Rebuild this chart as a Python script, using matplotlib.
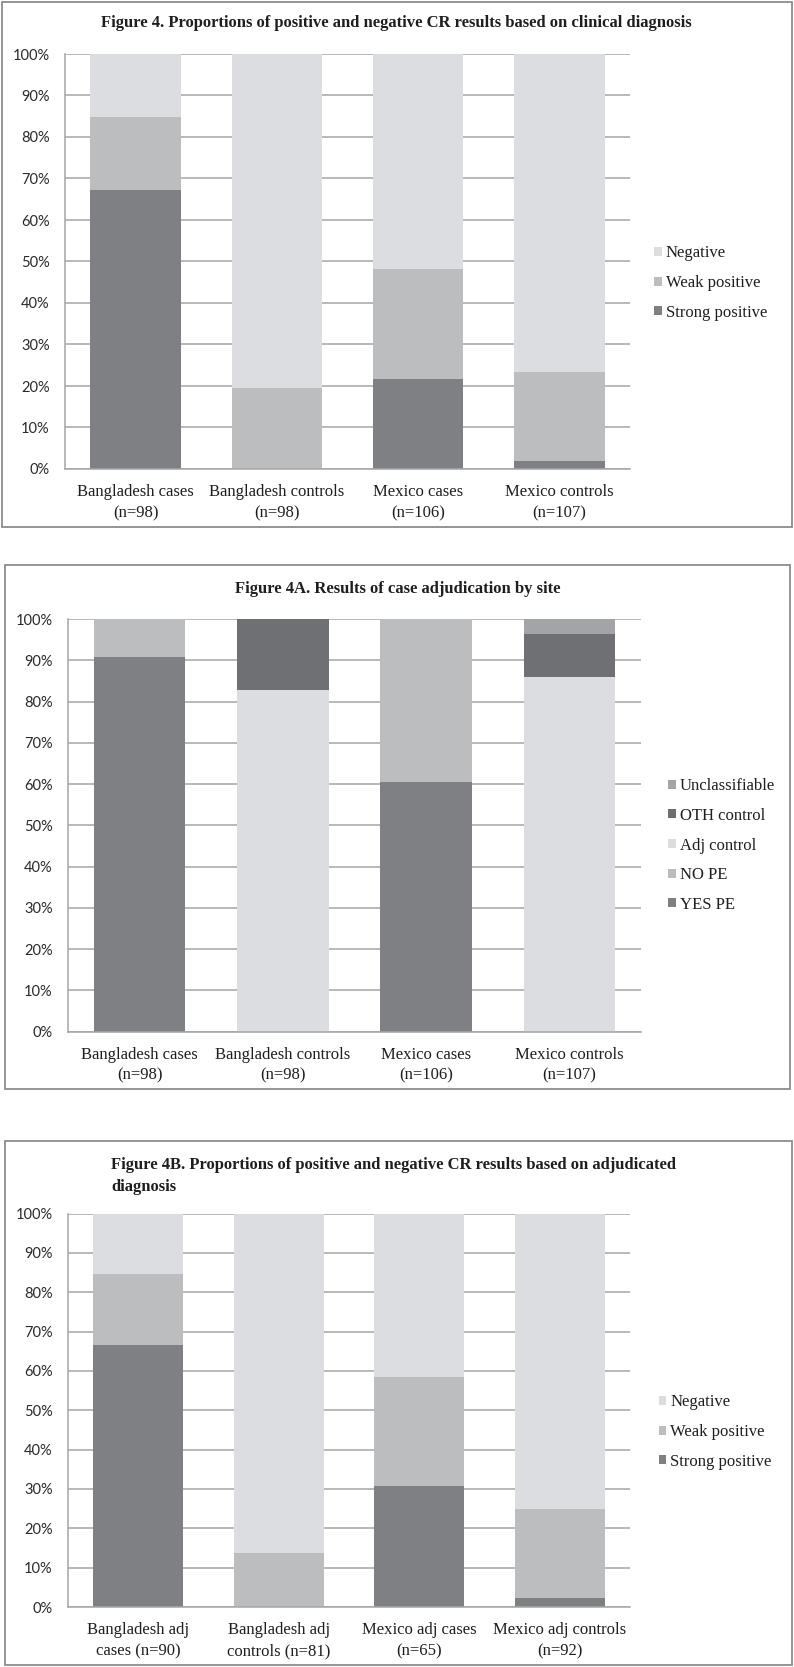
import matplotlib
matplotlib.use("Agg")
import matplotlib.pyplot as plt
from matplotlib.patches import Rectangle, Patch

# ---- dados (percentuais) ----
grupos_clin = ["Bangladesh cases\n(n=98)", "Bangladesh controls\n(n=98)",
               "Mexico cases\n(n=106)", "Mexico controls\n(n=107)"]
strong_clin = [67.3, 0.0, 21.7, 1.9]
weak_clin = [17.4, 19.4, 26.4, 21.5]
neg_clin = [15.3, 80.6, 51.9, 76.6]

grupos_adj_site = ["Bangladesh cases\n(n=98)", "Bangladesh controls\n(n=98)",
                   "Mexico cases\n(n=106)", "Mexico controls\n(n=107)"]
yes_pe = [90.9, 0.0, 60.6, 0.0]
no_pe = [9.1, 0.0, 39.4, 0.0]
adj_control = [0.0, 82.7, 0.0, 86.0]
oth_control = [0.0, 17.3, 0.0, 10.3]
unclassifiable = [0.0, 0.0, 0.0, 3.7]

grupos_adj = ["Bangladesh adj\ncases (n=90)", "Bangladesh adj\ncontrols (n=81)",
              "Mexico adj cases\n(n=65)", "Mexico adj controls\n(n=92)"]
strong_adj = [66.7, 0.0, 30.8, 2.2]
weak_adj = [17.8, 13.6, 27.7, 22.8]
neg_adj = [15.5, 86.4, 41.5, 75.0]

yticks = [0, 10, 20, 30, 40, 50, 60, 70, 80, 90, 100]

# cores (tons de cinza tipo Excel)
c_strong = "#7f8084"
c_weak = "#bcbdbf"
c_neg = "#dcdde0"
c_oth = "#6f7074"
c_uncl = "#a3a4a7"
c_text = "#1e1e1e"
c_grid = "#a6a6a6"

plt.rcParams["font.family"] = ["Liberation Serif", "DejaVu Serif"]
plt.rcParams["font.size"] = 12

W, H = 794, 1667
fig = plt.figure(figsize=(W / 100, H / 100), dpi=100)


def fx(x):
    return x / W


def fy(y):
    return 1 - y / H


def moldura(x0, y0, x1, y1):
    # retangulo cinza em volta de cada figura
    fig.patches.append(Rectangle((fx(x0), fy(y1)), fx(x1) - fx(x0), fy(y0) - fy(y1),
                                 transform=fig.transFigure, fill=False,
                                 edgecolor="#8c8c8c", linewidth=1.3))


def painel(box, grupos, series, nomes, cores, leg_pos):
    left, right, top, bottom = box
    ax = fig.add_axes([fx(left), fy(bottom), fx(right) - fx(left), fy(top) - fy(bottom)])
    pos = list(range(len(grupos)))
    base = [0.0] * len(grupos)
    for vals, cor in zip(series, cores):
        ax.bar(pos, vals, bottom=base, width=0.64, color=cor, zorder=2)
        base = [b + v for b, v in zip(base, vals)]
    ax.set_xlim(-0.5, len(grupos) - 0.5)
    ax.set_ylim(0, 100)
    ax.set_yticks(yticks)
    # eixo y em fonte sem serifa (parecido com Calibri)
    ax.set_yticklabels([f"{t}%" for t in yticks], family="Lato", fontsize=10.5, color="#2a2a2a")
    ax.set_xticks(pos)
    ax.set_xticklabels(grupos, linespacing=1.4, fontsize=12, color=c_text)
    ax.tick_params(length=0)
    ax.tick_params(axis="y", pad=11)
    ax.tick_params(axis="x", pad=11)
    ax.grid(axis="y", color=c_grid, linewidth=1.1, zorder=0)
    ax.set_axisbelow(True)
    for lado in ["top", "right"]:
        ax.spines[lado].set_visible(False)
    for lado in ["left", "bottom"]:
        ax.spines[lado].set_color(c_grid)
        ax.spines[lado].set_linewidth(1.1)
    # legenda com a ordem invertida (igual ao Excel)
    handles = [Patch(facecolor=c, edgecolor="none") for c in cores][::-1]
    fig.legend(handles, nomes[::-1], loc="center left",
               bbox_to_anchor=(fx(leg_pos[0]), fy(leg_pos[1])),
               frameon=False, fontsize=12, handlelength=0.46, handleheight=0.46,
               handletextpad=0.25, labelspacing=0.82, borderpad=0,
               borderaxespad=0, labelcolor=c_text)
    return ax


# ---- Figura 4 ----
moldura(2, 2, 792, 527)
fig.text(fx(396), fy(23), "Figure 4. Proportions of positive and negative CR results based on clinical diagnosis",
         ha="center", va="center", fontsize=12, fontweight="bold", color=c_text)
painel((65, 630, 54, 469), grupos_clin, [strong_clin, weak_clin, neg_clin],
       ["Strong positive", "Weak positive", "Negative"], [c_strong, c_weak, c_neg], (654, 283))

# ---- Figura 4A ----
moldura(5, 565, 790, 1089)
fig.text(fx(398), fy(589), "Figure 4A. Results of case adjudication by site",
         ha="center", va="center", fontsize=12, fontweight="bold", color=c_text)
painel((68, 641, 619, 1031.5), grupos_adj_site,
       [yes_pe, no_pe, adj_control, oth_control, unclassifiable],
       ["YES PE", "NO PE", "Adj control", "OTH control", "Unclassifiable"],
       [c_strong, c_weak, c_neg, c_oth, c_uncl], (668, 845.5))

# ---- Figura 4B ----
moldura(5, 1141, 792, 1665)
fig.text(fx(111), fy(1176), "Figure 4B. Proportions of positive and negative CR results based on adjudicated\ndiagnosis",
         ha="left", va="center", fontsize=12, fontweight="bold", color=c_text, linespacing=1.45)
painel((68, 630, 1213.5, 1607), grupos_adj, [strong_adj, weak_adj, neg_adj],
       ["Strong positive", "Weak positive", "Negative"], [c_strong, c_weak, c_neg], (658.5, 1432))

plt.savefig("out.png", dpi=100)
